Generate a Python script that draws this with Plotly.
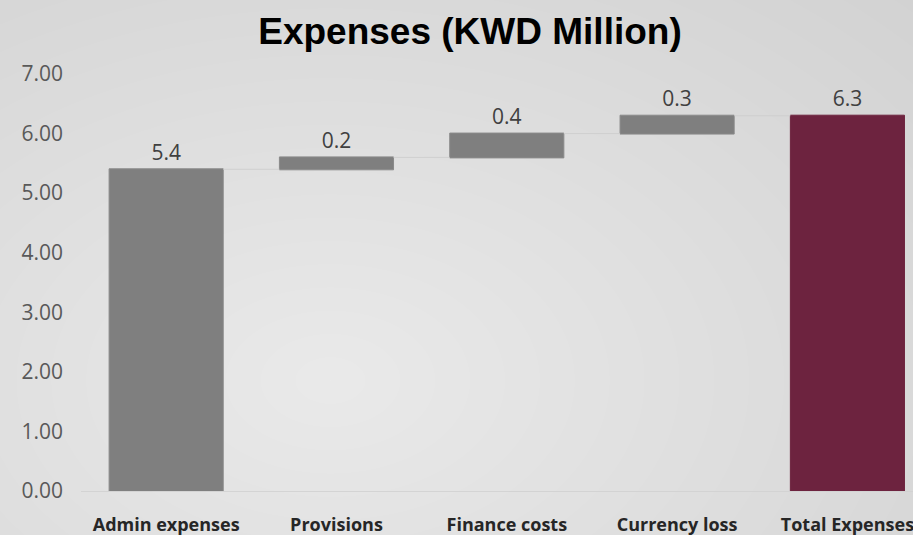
import base64
import struct
import zlib

import numpy as np
import plotly.graph_objects as go

categories = ["Admin expenses", "Provisions", "Finance costs", "Currency loss", "Total Expenses"]
values = [5.4, 0.2, 0.4, 0.3, 6.3]
measures = ["relative", "relative", "relative", "relative", "total"]
y_ticks = [0, 1, 2, 3, 4, 5, 6, 7]

W, H = 913, 535
L, R, T, B = 81, 0, 74, 44


def _png_uri(arr: np.ndarray) -> str:
    h, w, _ = arr.shape
    raw = b"".join(b"\x00" + arr[i].tobytes() for i in range(h))

    def chunk(tag: bytes, data: bytes) -> bytes:
        return struct.pack(">I", len(data)) + tag + data + struct.pack(">I", zlib.crc32(tag + data) & 0xFFFFFFFF)

    png = b"\x89PNG\r\n\x1a\n"
    png += chunk(b"IHDR", struct.pack(">IIBBBBB", w, h, 8, 2, 0, 0, 0))
    png += chunk(b"IDAT", zlib.compress(raw, 9))
    png += chunk(b"IEND", b"")
    return "data:image/png;base64," + base64.b64encode(png).decode()


def _background() -> str:
    # soft radial grey like the slide behind the chart
    xs, ys = np.meshgrid(np.arange(W), np.arange(H))
    d = np.sqrt(((xs - 330) / 1.5) ** 2 + (ys - 380) ** 2)
    v = np.clip(234 - 0.043 * d, 200, 236).astype(np.uint8)
    return _png_uri(np.dstack([v, v, v]))


fig = go.Figure()
fig.add_trace(go.Waterfall(
    x=categories,
    y=values,
    measure=measures,
    text=[f"{v:.1f}" for v in values],
    textposition="outside",
    textfont=dict(family="Open Sans", size=21, color="#404040"),
    increasing=dict(marker=dict(color="#7f7f7f", line=dict(color="#8a8a8a", width=1))),
    totals=dict(marker=dict(color="#6d233f", line=dict(color="#6d233f", width=1))),
    connector=dict(line=dict(color="rgba(205,205,205,0.9)", width=1)),
    cliponaxis=False,
    showlegend=False,
))

plot_w = W - L - R
plot_h = H - T - B
fig.add_layout_image(dict(
    source=_background(),
    xref="paper", yref="paper",
    x=-L / plot_w, y=1 + T / plot_h,
    sizex=W / plot_w, sizey=H / plot_h,
    xanchor="left", yanchor="top",
    sizing="stretch", layer="below",
))

fig.update_layout(
    width=W,
    height=H,
    margin=dict(l=L, r=R, t=T, b=B),
    paper_bgcolor="#dedede",
    plot_bgcolor="rgba(255,255,255,0.06)",
    waterfallgap=0.33,
    title=dict(
        text="<b>Expenses (KWD Million)</b>",
        font=dict(family="Liberation Sans", size=37, color="#000000"),
        xref="container", x=470 / W, xanchor="center",
        yref="container", y=1 - 31 / H, yanchor="middle",
    ),
    xaxis=dict(
        range=[-0.5, 4.385],
        showgrid=False,
        showline=False,
        ticks="",
        ticklabelstandoff=21,
        tickfont=dict(family="Open Sans", size=18, color="#262626", weight="bold"),
    ),
    yaxis=dict(
        range=[0, 7],
        tickvals=y_ticks,
        tickformat=".2f",
        showgrid=False,
        zeroline=True,
        zerolinecolor="rgba(210,210,210,0.9)",
        zerolinewidth=1,
        showline=False,
        ticks="",
        ticklabelstandoff=17,
        tickfont=dict(family="Open Sans", size=21, color="#595959"),
    ),
)

fig.write_html(
    "out.html",
    config={"displayModeBar": False},
    post_script="document.body.style.margin='0px';",
)
